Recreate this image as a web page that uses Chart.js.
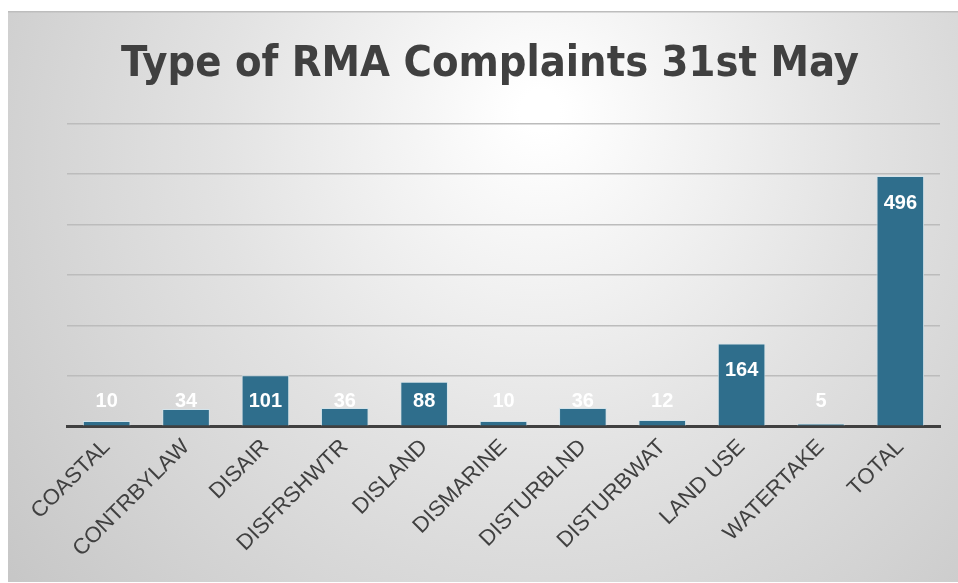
<!DOCTYPE html>
<html>
<head>
<meta charset="utf-8">
<script src="https://cdn.jsdelivr.net/npm/chart.js@4.4.1/dist/chart.umd.min.js"></script>
<style>
  html, body { margin: 0; padding: 0; background: #ffffff; }
  #wrap { width: 958px; height: 583px; position: relative; }
</style>
</head>
<body>
<div id="wrap"><canvas id="c" width="958" height="583"></canvas></div>
<script>
const categories = ['COASTAL', 'CONTRBYLAW', 'DISAIR', 'DISFRSHWTR', 'DISLAND', 'DISMARINE',
                    'DISTURBLND', 'DISTURBWAT', 'LAND USE', 'WATERTAKE', 'TOTAL'];
const complaints = [10, 34, 101, 36, 88, 10, 36, 12, 164, 5, 496];
const chartTitle = 'Type of RMA Complaints 31st May';

// Panel background: soft radial shading inside a white margin
const panelBackground = {
  id: 'panelBackground',
  beforeDraw(chart) {
    const ctx = chart.ctx;
    const W = chart.width, H = chart.height;
    ctx.save();
    ctx.fillStyle = '#ffffff';
    ctx.fillRect(0, 0, W, H);
    const x0 = 8, y0 = 11;
    const g = ctx.createRadialGradient(540, 110, 20, 540, 180, 700);
    g.addColorStop(0, '#ffffff');
    g.addColorStop(0.45, '#e2e2e2');
    g.addColorStop(1, '#c4c4c4');
    ctx.fillStyle = g;
    ctx.fillRect(x0, y0, W - x0, H - y0 - 1);
    ctx.fillStyle = '#bdbdbd';
    ctx.fillRect(x0, y0, W - x0, 1.5);
    ctx.restore();
  }
};

// White value labels: inside the bar top, held above the baseline for short bars
const valueLabels = {
  id: 'valueLabels',
  afterDatasetsDraw(chart) {
    const ctx = chart.ctx;
    const meta = chart.getDatasetMeta(0);
    const base = chart.scales.y.getPixelForValue(0);
    ctx.save();
    ctx.font = 'bold 20px "Liberation Sans", Arial, sans-serif';
    ctx.fillStyle = '#ffffff';
    ctx.textAlign = 'center';
    ctx.textBaseline = 'middle';
    meta.data.forEach((bar, i) => {
      const y = Math.min(bar.y + 27, base - 25);
      ctx.fillText(String(complaints[i]), bar.x, y);
    });
    ctx.restore();
  }
};

new Chart(document.getElementById('c'), {
  type: 'bar',
  data: {
    labels: categories,
    datasets: [{
      data: complaints,
      backgroundColor: '#2f6e8c',
      borderColor: '#d3e3ea',
      borderWidth: 1,
      barPercentage: 0.6,
      categoryPercentage: 1.0
    }]
  },
  options: {
    responsive: false,
    animation: false,
    layout: { padding: { left: 40, right: 18, top: 20, bottom: 13 } },
    plugins: {
      legend: { display: false },
      tooltip: { enabled: false },
      title: {
        display: true,
        text: chartTitle,
        color: '#404040',
        font: { family: '"DejaVu Sans Condensed", "DejaVu Sans", sans-serif', size: 43, weight: 'bold' },
        padding: { top: 19, bottom: 33 }
      }
    },
    scales: {
      x: {
        grid: { display: false, drawTicks: false },
        border: { display: true, color: '#404040', width: 3 },
        ticks: {
          color: '#404040',
          font: { family: '"Liberation Sans", Arial, sans-serif', size: 22 },
          maxRotation: 45, minRotation: 45,
          padding: 8
        }
      },
      y: {
        min: 0, max: 600,
        afterFit(scale) { scale.width = 27; },
        ticks: { display: false, stepSize: 100 },
        grid: {
          color: (c) => c.tick && c.tick.value === 0 ? '#404040' : '#bcbcbc',
          lineWidth: 1.5,
          drawTicks: false
        },
        border: { display: false }
      }
    }
  },
  plugins: [panelBackground, valueLabels]
});
</script>
</body>
</html>
